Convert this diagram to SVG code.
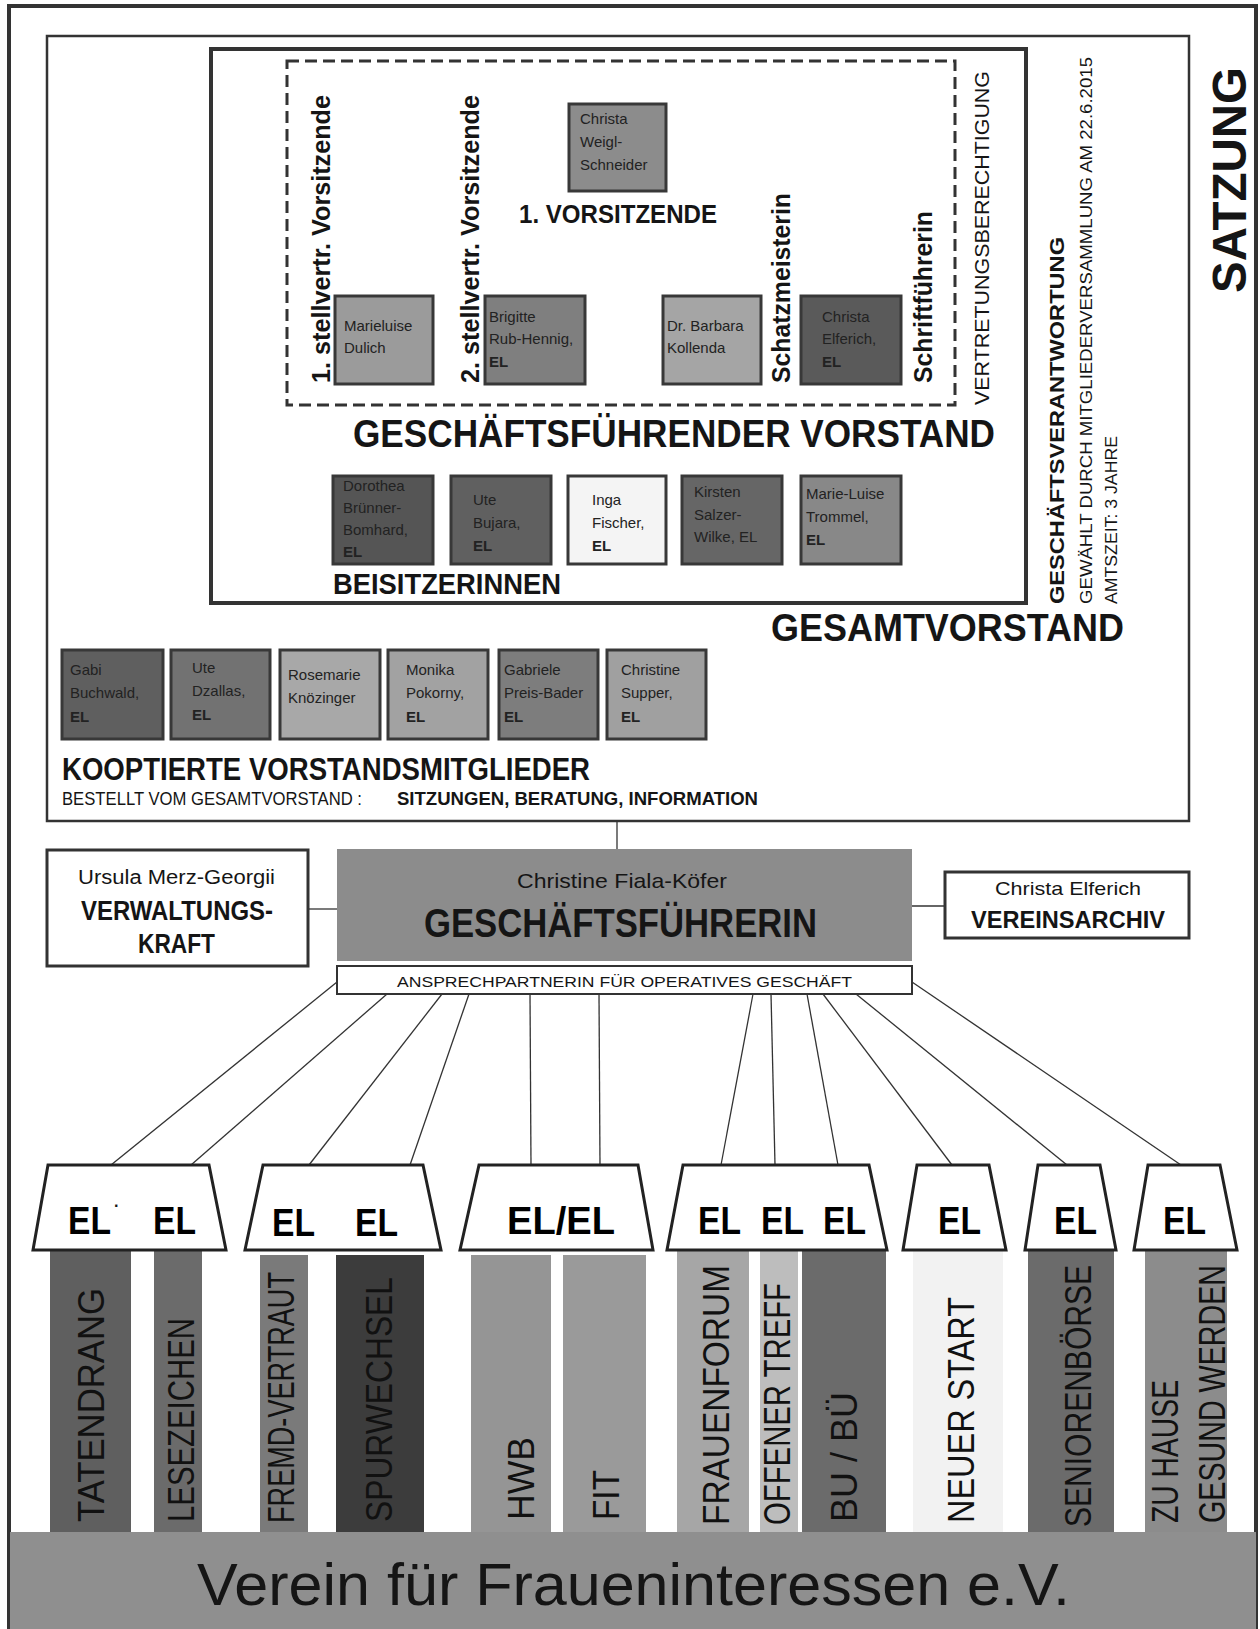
<svg xmlns="http://www.w3.org/2000/svg" width="1260" height="1629" viewBox="0 0 1260 1629">
<style>
text{font-family:"Liberation Sans",Arial,sans-serif;fill:#151515}
.box{stroke:#383838;stroke-width:3}
.nm{font-size:15px;fill:#222}
.b{font-weight:bold}
.h{font-weight:bold}
.frame{fill:none;stroke:#333}
.wbox{fill:#fff;stroke:#333;stroke-width:3}
.trap{fill:#fff;stroke:#222;stroke-width:3;stroke-linejoin:miter}
.el{font-size:38px;font-weight:bold;fill:#000}
.bar{font-size:36px;fill:#111}
.conn line{stroke:#333;stroke-width:1.3}
</style>

<!-- frames -->
<rect class="frame" x="9" y="6" width="1247" height="1622" stroke-width="4"/>
<g id="satzung">
<rect class="frame" x="47" y="36" width="1142" height="785" stroke-width="2.5" fill="#fff"/>
<text class="h" font-size="48" transform="translate(1246,293) rotate(-90)" textLength="226" lengthAdjust="spacingAndGlyphs">SATZUNG</text>
</g>
<g id="gesamtvorstand">
<rect class="frame" x="211" y="49" width="815" height="554" stroke-width="4"/>
<text class="h" font-size="39" x="771" y="641" textLength="353" lengthAdjust="spacingAndGlyphs">GESAMTVORSTAND</text>
<text class="h" font-size="21" transform="translate(1064,604) rotate(-90)" textLength="367" lengthAdjust="spacingAndGlyphs">GESCHÄFTSVERANTWORTUNG</text>
<text font-size="16" transform="translate(1092,604) rotate(-90)" textLength="547" lengthAdjust="spacingAndGlyphs">GEWÄHLT DURCH MITGLIEDERVERSAMMLUNG AM 22.6.2015</text>
<text font-size="16" transform="translate(1117,604) rotate(-90)" textLength="168" lengthAdjust="spacingAndGlyphs">AMTSZEIT: 3 JAHRE</text>
</g>
<g id="geschaeftsfuehrender-vorstand">
<rect x="287" y="61" width="668" height="344" fill="none" stroke="#333" stroke-width="3" stroke-dasharray="12 6"/>
<text font-size="21" transform="translate(989,405) rotate(-90)" textLength="334" lengthAdjust="spacingAndGlyphs">VERTRETUNGSBERECHTIGUNG</text>
<text class="h" font-size="39" x="353" y="447" textLength="642" lengthAdjust="spacingAndGlyphs">GESCHÄFTSFÜHRENDER VORSTAND</text>
</g>

<g id="vorsitzende">
<rect class="box" x="569" y="104" width="97" height="87" fill="#8c8c8c"/>
<text class="nm" x="580" y="124">Christa</text>
<text class="nm" x="580" y="147">Weigl-</text>
<text class="nm" x="580" y="170">Schneider</text>
<text class="h" font-size="25" x="519" y="223" textLength="198" lengthAdjust="spacingAndGlyphs">1. VORSITZENDE</text>
</g>
<g id="stellv1">
<rect class="box" x="335" y="296" width="98" height="88" fill="#9b9b9b"/>
<text class="nm" x="344" y="331">Marieluise</text>
<text class="nm" x="344" y="353">Dulich</text>
<text class="h" font-size="26" transform="translate(330,383) rotate(-90)" textLength="288" lengthAdjust="spacingAndGlyphs">1. stellvertr. Vorsitzende</text>
</g>
<g id="stellv2">
<rect class="box" x="485" y="296" width="100" height="88" fill="#7f7f7f"/>
<text class="nm" x="489" y="322">Brigitte</text>
<text class="nm" x="489" y="344">Rub-Hennig,</text>
<text class="nm b" x="489" y="367">EL</text>
<text class="h" font-size="26" transform="translate(479,383) rotate(-90)" textLength="288" lengthAdjust="spacingAndGlyphs">2. stellvertr. Vorsitzende</text>
</g>
<g id="schatzmeisterin">
<rect class="box" x="663" y="296" width="98" height="88" fill="#a5a5a5"/>
<text class="nm" x="667" y="331">Dr. Barbara</text>
<text class="nm" x="667" y="353">Kollenda</text>
<text class="h" font-size="26" transform="translate(790,383) rotate(-90)" textLength="190" lengthAdjust="spacingAndGlyphs">Schatzmeisterin</text>
</g>
<g id="schriftfuehrerin">
<rect class="box" x="801" y="296" width="100" height="88" fill="#5a5a5a"/>
<text class="nm" x="822" y="322">Christa</text>
<text class="nm" x="822" y="344">Elferich,</text>
<text class="nm b" x="822" y="367">EL</text>
<text class="h" font-size="26" transform="translate(932,383) rotate(-90)" textLength="172" lengthAdjust="spacingAndGlyphs">Schriftführerin</text>
</g>

<g id="beisitzerinnen">
<rect class="box" x="333" y="476" width="100" height="88" fill="#555"/>
<text class="nm" x="343" y="491">Dorothea</text>
<text class="nm" x="343" y="513">Brünner-</text>
<text class="nm" x="343" y="535">Bomhard,</text>
<text class="nm b" x="343" y="557">EL</text>
<rect class="box" x="451" y="476" width="100" height="88" fill="#606060"/>
<text class="nm" x="473" y="505">Ute</text>
<text class="nm" x="473" y="528">Bujara,</text>
<text class="nm b" x="473" y="551">EL</text>
<rect class="box" x="568" y="476" width="98" height="88" fill="#f4f4f4"/>
<text class="nm" x="592" y="505">Inga</text>
<text class="nm" x="592" y="528">Fischer,</text>
<text class="nm b" x="592" y="551">EL</text>
<rect class="box" x="682" y="476" width="100" height="88" fill="#666"/>
<text class="nm" x="694" y="497">Kirsten</text>
<text class="nm" x="694" y="520">Salzer-</text>
<text class="nm" x="694" y="542">Wilke, EL</text>
<rect class="box" x="801" y="476" width="100" height="88" fill="#888"/>
<text class="nm" x="806" y="499">Marie-Luise</text>
<text class="nm" x="806" y="522">Trommel,</text>
<text class="nm b" x="806" y="545">EL</text>
<text class="h" font-size="30" x="333" y="594" textLength="228" lengthAdjust="spacingAndGlyphs">BEISITZERINNEN</text>
</g>

<g id="kooptierte">
<rect class="box" x="62" y="650" width="101" height="89" fill="#5f5f5f"/>
<text class="nm" x="70" y="675">Gabi</text>
<text class="nm" x="70" y="698">Buchwald,</text>
<text class="nm b" x="70" y="722">EL</text>
<rect class="box" x="171" y="650" width="99" height="89" fill="#727272"/>
<text class="nm" x="192" y="673">Ute</text>
<text class="nm" x="192" y="696">Dzallas,</text>
<text class="nm b" x="192" y="720">EL</text>
<rect class="box" x="280" y="650" width="100" height="89" fill="#a8a8a8"/>
<text class="nm" x="288" y="680">Rosemarie</text>
<text class="nm" x="288" y="703">Knözinger</text>
<rect class="box" x="388" y="650" width="100" height="89" fill="#a2a2a2"/>
<text class="nm" x="406" y="675">Monika</text>
<text class="nm" x="406" y="698">Pokorny,</text>
<text class="nm b" x="406" y="722">EL</text>
<rect class="box" x="499" y="650" width="99" height="89" fill="#7d7d7d"/>
<text class="nm" x="504" y="675">Gabriele</text>
<text class="nm" x="504" y="698">Preis-Bader</text>
<text class="nm b" x="504" y="722">EL</text>
<rect class="box" x="607" y="650" width="99" height="89" fill="#a0a0a0"/>
<text class="nm" x="621" y="675">Christine</text>
<text class="nm" x="621" y="698">Supper,</text>
<text class="nm b" x="621" y="722">EL</text>
<text class="h" font-size="31" x="62" y="780" textLength="528" lengthAdjust="spacingAndGlyphs">KOOPTIERTE VORSTANDSMITGLIEDER</text>
<text font-size="18" x="62" y="805" textLength="300" lengthAdjust="spacingAndGlyphs">BESTELLT VOM GESAMTVORSTAND :</text>
<text font-size="18" font-weight="bold" x="397" y="805" textLength="361" lengthAdjust="spacingAndGlyphs">SITZUNGEN, BERATUNG, INFORMATION</text>
</g>

<g class="conn" id="connectors">
<line x1="617" y1="821" x2="617" y2="849"/>
<line x1="308" y1="909" x2="337" y2="909"/>
<line x1="912" y1="906" x2="945" y2="906"/>
<line x1="337" y1="982" x2="111" y2="1165"/>
<line x1="387" y1="994" x2="191" y2="1165"/>
<line x1="442" y1="994" x2="309" y2="1165"/>
<line x1="469" y1="994" x2="410" y2="1165"/>
<line x1="530" y1="994" x2="531" y2="1165"/>
<line x1="599" y1="994" x2="600" y2="1165"/>
<line x1="753" y1="994" x2="721" y2="1165"/>
<line x1="771" y1="994" x2="775" y2="1165"/>
<line x1="807" y1="994" x2="838" y2="1165"/>
<line x1="823" y1="994" x2="952" y2="1165"/>
<line x1="856" y1="994" x2="1067" y2="1165"/>
<line x1="912" y1="982" x2="1181" y2="1165"/>
</g>

<g id="verwaltungskraft">
<rect class="wbox" x="47" y="850" width="261" height="116"/>
<text font-size="20" x="78" y="884" textLength="197" lengthAdjust="spacingAndGlyphs">Ursula Merz-Georgii</text>
<text class="h" font-size="27" x="81" y="920" textLength="192" lengthAdjust="spacingAndGlyphs">VERWALTUNGS-</text>
<text class="h" font-size="27" x="138" y="953" textLength="77" lengthAdjust="spacingAndGlyphs">KRAFT</text>
</g>
<g id="geschaeftsfuehrerin">
<rect x="337" y="849" width="575" height="112" fill="#8c8c8c"/>
<text font-size="21" x="517" y="888" textLength="210" lengthAdjust="spacingAndGlyphs">Christine Fiala-Köfer</text>
<text class="h" font-size="40" x="424" y="937" textLength="393" lengthAdjust="spacingAndGlyphs">GESCHÄFTSFÜHRERIN</text>
</g>
<g id="ansprechpartnerin">
<rect x="337" y="966" width="575" height="28" fill="#fff" stroke="#333" stroke-width="2"/>
<text font-size="15" x="397" y="987" textLength="455" lengthAdjust="spacingAndGlyphs">ANSPRECHPARTNERIN  FÜR OPERATIVES GESCHÄFT</text>
</g>
<g id="vereinsarchiv">
<rect class="wbox" x="945" y="872" width="244" height="66"/>
<text font-size="19" x="995" y="895" textLength="146" lengthAdjust="spacingAndGlyphs">Christa Elferich</text>
<text class="h" font-size="24" x="971" y="928" textLength="194" lengthAdjust="spacingAndGlyphs">VEREINSARCHIV</text>
</g>

<!-- project groups -->
<g id="grp1">
<rect x="50" y="1250" width="81" height="282" fill="#5f5f5f"/>
<rect x="154" y="1250" width="48" height="282" fill="#6b6b6b"/>
<polygon class="trap" points="48,1165 209,1165 226,1250 33,1250"/>
<text class="el" x="68" y="1234" textLength="43" lengthAdjust="spacingAndGlyphs">EL</text>
<text font-size="16" font-weight="bold" x="114" y="1211" fill="#000">·</text>
<text class="el" x="153" y="1234" textLength="43" lengthAdjust="spacingAndGlyphs">EL</text>
<text class="bar" transform="translate(104,1522) rotate(-90)" textLength="234" lengthAdjust="spacingAndGlyphs">TATENDRANG</text>
<text class="bar" transform="translate(194,1522) rotate(-90)" textLength="204" lengthAdjust="spacingAndGlyphs">LESEZEICHEN</text>
</g>
<g id="grp2">
<rect x="260" y="1255" width="48" height="277" fill="#7a7a7a"/>
<rect x="336" y="1255" width="88" height="277" fill="#3c3c3c"/>
<polygon class="trap" points="263,1165 423,1165 441,1250 245,1250"/>
<text class="el" x="272" y="1236" textLength="43" lengthAdjust="spacingAndGlyphs">EL</text>
<text class="el" x="355" y="1236" textLength="43" lengthAdjust="spacingAndGlyphs">EL</text>
<text class="bar" font-size="30" transform="translate(294,1523) rotate(-90)" textLength="251" lengthAdjust="spacingAndGlyphs">FREMD-VERTRAUT</text>
<text class="bar" transform="translate(392,1522) rotate(-90)" textLength="245" lengthAdjust="spacingAndGlyphs">SPURWECHSEL</text>
</g>
<g id="grp3">
<rect x="471" y="1255" width="80" height="277" fill="#959595"/>
<rect x="563" y="1255" width="83" height="277" fill="#9a9a9a"/>
<polygon class="trap" points="479,1165 638,1165 653,1250 460,1250"/>
<text class="el" x="507" y="1234" textLength="108" lengthAdjust="spacingAndGlyphs">EL/EL</text>
<text class="bar" transform="translate(534,1520) rotate(-90)" textLength="83" lengthAdjust="spacingAndGlyphs">HWB</text>
<text class="bar" transform="translate(619,1520) rotate(-90)" textLength="50" lengthAdjust="spacingAndGlyphs">FIT</text>
</g>
<g id="grp4">
<rect x="677" y="1250" width="72" height="282" fill="#a6a6a6"/>
<rect x="760" y="1250" width="38" height="282" fill="#bdbdbd"/>
<rect x="802" y="1250" width="84" height="282" fill="#6b6b6b"/>
<polygon class="trap" points="683,1165 869,1165 887,1250 667,1250"/>
<text class="el" x="698" y="1234" textLength="43" lengthAdjust="spacingAndGlyphs">EL</text>
<text class="el" x="761" y="1234" textLength="43" lengthAdjust="spacingAndGlyphs">EL</text>
<text class="el" x="823" y="1234" textLength="43" lengthAdjust="spacingAndGlyphs">EL</text>
<text class="bar" transform="translate(729,1525) rotate(-90)" textLength="260" lengthAdjust="spacingAndGlyphs">FRAUENFORUM</text>
<text class="bar" transform="translate(790,1525) rotate(-90)" textLength="242" lengthAdjust="spacingAndGlyphs">OFFENER TREFF</text>
<text class="bar" transform="translate(857,1522) rotate(-90)" textLength="130" lengthAdjust="spacingAndGlyphs">BU / BÜ</text>
</g>
<g id="grp5">
<rect x="913" y="1250" width="90" height="282" fill="#f2f2f2"/>
<polygon class="trap" points="917,1165 989,1165 1006,1250 903,1250"/>
<text class="el" x="938" y="1234" textLength="43" lengthAdjust="spacingAndGlyphs">EL</text>
<text class="bar" transform="translate(974,1523) rotate(-90)" textLength="226" lengthAdjust="spacingAndGlyphs">NEUER START</text>
</g>
<g id="grp6">
<rect x="1028" y="1250" width="86" height="282" fill="#6b6b6b"/>
<polygon class="trap" points="1038,1165 1100,1165 1116,1250 1025,1250"/>
<text class="el" x="1054" y="1234" textLength="43" lengthAdjust="spacingAndGlyphs">EL</text>
<text class="bar" transform="translate(1091,1527) rotate(-90)" textLength="262" lengthAdjust="spacingAndGlyphs">SENIORENBÖRSE</text>
</g>
<g id="grp7">
<rect x="1145" y="1250" width="82" height="282" fill="#8c8c8c"/>
<polygon class="trap" points="1148,1165 1220,1165 1237,1250 1134,1250"/>
<text class="el" x="1163" y="1234" textLength="43" lengthAdjust="spacingAndGlyphs">EL</text>
<text class="bar" font-size="32" transform="translate(1178,1523) rotate(-90)" textLength="143" lengthAdjust="spacingAndGlyphs">ZU HAUSE</text>
<text class="bar" font-size="32" transform="translate(1225,1523) rotate(-90)" textLength="258" lengthAdjust="spacingAndGlyphs">GESUND WERDEN</text>
</g>

<g id="verein">
<rect x="10" y="1532" width="1246" height="97" fill="#8f8f8f"/>
<text font-size="60" x="197" y="1605" textLength="873" lengthAdjust="spacingAndGlyphs">Verein für Fraueninteressen e.V.</text>
</g>
</svg>
